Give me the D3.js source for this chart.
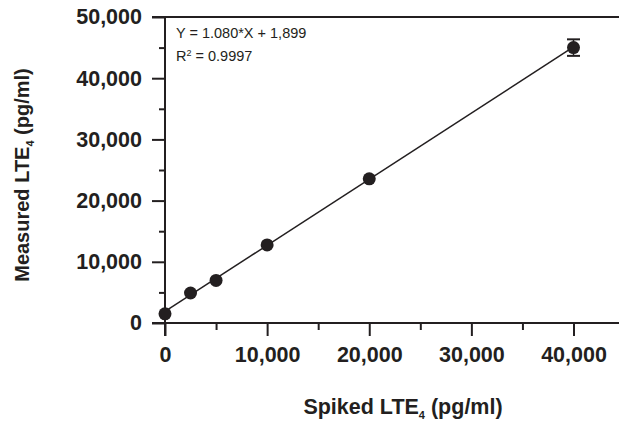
<!DOCTYPE html>
<html>
<head>
<meta charset="utf-8">
<script src="https://cdn.jsdelivr.net/npm/d3@7"></script>
<style>
	body { margin: 0; background: #fff; }
	svg { display: block; }
	text { font-family: "Liberation Sans", Arial, Helvetica, sans-serif; fill: #231f20; }
</style>
</head>
<body>
<div id="chart"></div>
<script>
// Spiked vs measured LTE4 (pg/ml)
const spiked = [0, 2500, 5000, 10000, 20000, 40000];
const measured = [1500, 4900, 6950, 12750, 23550, 45000];
const errors = [0, 0, 0, 0, 0, 1350];

const xTicks = [0, 10000, 20000, 30000, 40000];
const yTicks = [0, 10000, 20000, 30000, 40000, 50000];
const minorStep = 5000;

const slope = 1.080;
const intercept = 1899;
const equation = 'Y = 1.080*X + 1,899';

const WIDTH = 619;
const HEIGHT = 422;
const MARGIN = {top: 17, right: 0, bottom: 99, left: 165};
const INK = '#231f20';

const svg = d3.select('#chart').append('svg')
	.attr('width', WIDTH)
	.attr('height', HEIGHT);

const plotW = WIDTH - MARGIN.left - MARGIN.right;
const plotH = HEIGHT - MARGIN.top - MARGIN.bottom;

const g = svg.append('g')
	.attr('transform', `translate(${MARGIN.left}, ${MARGIN.top})`);

// scales
const xScale = d3.scaleLinear()
	.domain([0, 40000 * plotW / 408.5])
	.range([0, plotW]);

const yScale = d3.scaleLinear()
	.domain([0, 50000])
	.range([plotH, 0]);

const fmt = d3.format(',');

// x axis: line, major and minor ticks
const xAxis = d3.axisBottom(xScale)
	.tickValues(xTicks)
	.tickSize(13)
	.tickPadding(11)
	.tickFormat(d => fmt(d));

const xg = g.append('g')
	.attr('transform', `translate(0, ${plotH})`)
	.call(xAxis);
xg.select('.domain').remove();
xg.selectAll('line').attr('stroke', INK).attr('stroke-width', 2);
xg.selectAll('text')
	.style('font-size', '21.5px')
	.style('font-weight', 'bold')
	.attr('fill', INK);

g.append('g')
	.attr('transform', `translate(0, ${plotH})`)
	.call(d3.axisBottom(xScale)
		.tickValues(d3.range(minorStep, 40000, 10000))
		.tickSize(7)
		.tickFormat(''))
	.call(s => s.select('.domain').remove())
	.selectAll('line').attr('stroke', INK).attr('stroke-width', 2);

g.append('line')
	.attr('x1', -13).attr('x2', plotW)
	.attr('y1', plotH).attr('y2', plotH)
	.attr('stroke', INK).attr('stroke-width', 2);

// top frame line
g.append('line')
	.attr('x1', -13).attr('x2', plotW)
	.attr('y1', yScale(50000)).attr('y2', yScale(50000))
	.attr('stroke', INK).attr('stroke-width', 2);

// y axis
const yAxis = d3.axisLeft(yScale)
	.tickValues(yTicks)
	.tickSize(13)
	.tickPadding(10)
	.tickFormat(d => fmt(d));

const yg = g.append('g').call(yAxis);
yg.select('.domain').remove();
yg.selectAll('line').attr('stroke', INK).attr('stroke-width', 2);
yg.selectAll('text')
	.style('font-size', '21.5px')
	.style('font-weight', 'bold')
	.attr('fill', INK);

g.append('g')
	.call(d3.axisLeft(yScale)
		.tickValues(d3.range(minorStep, 50000, 10000))
		.tickSize(6)
		.tickFormat(''))
	.call(s => s.select('.domain').remove())
	.selectAll('line').attr('stroke', INK).attr('stroke-width', 2);

g.append('line')
	.attr('x1', 0).attr('x2', 0)
	.attr('y1', 0).attr('y2', plotH + 13)
	.attr('stroke', INK).attr('stroke-width', 2);

// regression line
const fitX = d3.extent(spiked);
g.append('line')
	.attr('x1', xScale(fitX[0])).attr('y1', yScale(slope * fitX[0] + intercept))
	.attr('x2', xScale(fitX[1])).attr('y2', yScale(slope * fitX[1] + intercept))
	.attr('stroke', INK).attr('stroke-width', 1.5);

const points = spiked.map((x, i) => ({x, y: measured[i], e: errors[i]}));

// error bars
const eb = g.selectAll('.err')
	.data(points.filter(d => d.e > 0))
	.enter().append('g').attr('class', 'err');
eb.append('line')
	.attr('x1', d => xScale(d.x)).attr('x2', d => xScale(d.x))
	.attr('y1', d => yScale(d.y - d.e)).attr('y2', d => yScale(d.y + d.e))
	.attr('stroke', INK).attr('stroke-width', 1.5);
eb.selectAll('.cap')
	.data(d => [d.y - d.e, d.y + d.e].map(v => ({x: d.x, v})))
	.enter().append('line')
	.attr('x1', d => xScale(d.x) - 6.5).attr('x2', d => xScale(d.x) + 6.5)
	.attr('y1', d => yScale(d.v)).attr('y2', d => yScale(d.v))
	.attr('stroke', INK).attr('stroke-width', 2);

// points
g.selectAll('.dot')
	.data(points)
	.enter().append('circle')
	.attr('class', 'dot')
	.attr('cx', d => xScale(d.x))
	.attr('cy', d => yScale(d.y))
	.attr('r', 6.5)
	.attr('fill', INK);

// equation text
g.append('text')
	.attr('x', 11).attr('y', 20.5)
	.style('font-size', '14.5px')
	.text(equation);

const r2 = g.append('text')
	.attr('x', 11).attr('y', 43.5)
	.style('font-size', '14.5px');
r2.append('tspan').text('R');
r2.append('tspan').attr('dy', -5).style('font-size', '9px').text('2');
r2.append('tspan').attr('dy', 5).text(' = 0.9997');

// axis titles
function title(sel, size) {
	sel.style('font-size', size).style('font-weight', 'bold');
}

const xt = svg.append('text')
	.attr('x', 403).attr('y', 414)
	.attr('text-anchor', 'middle')
	.call(title, '21.5px');
xt.append('tspan').text('Spiked LTE');
xt.append('tspan').attr('dy', 5).style('font-size', '11px').text('4');
xt.append('tspan').attr('dy', -5).text(' (pg/ml)');

const yt = svg.append('text')
	.attr('transform', 'translate(29, 175) rotate(-90)')
	.attr('text-anchor', 'middle')
	.call(title, '20px');
yt.append('tspan').text('Measured LTE');
yt.append('tspan').attr('dy', 5).style('font-size', '11px').text('4');
yt.append('tspan').attr('dy', -5).text(' (pg/ml)');
</script>
</body>
</html>
